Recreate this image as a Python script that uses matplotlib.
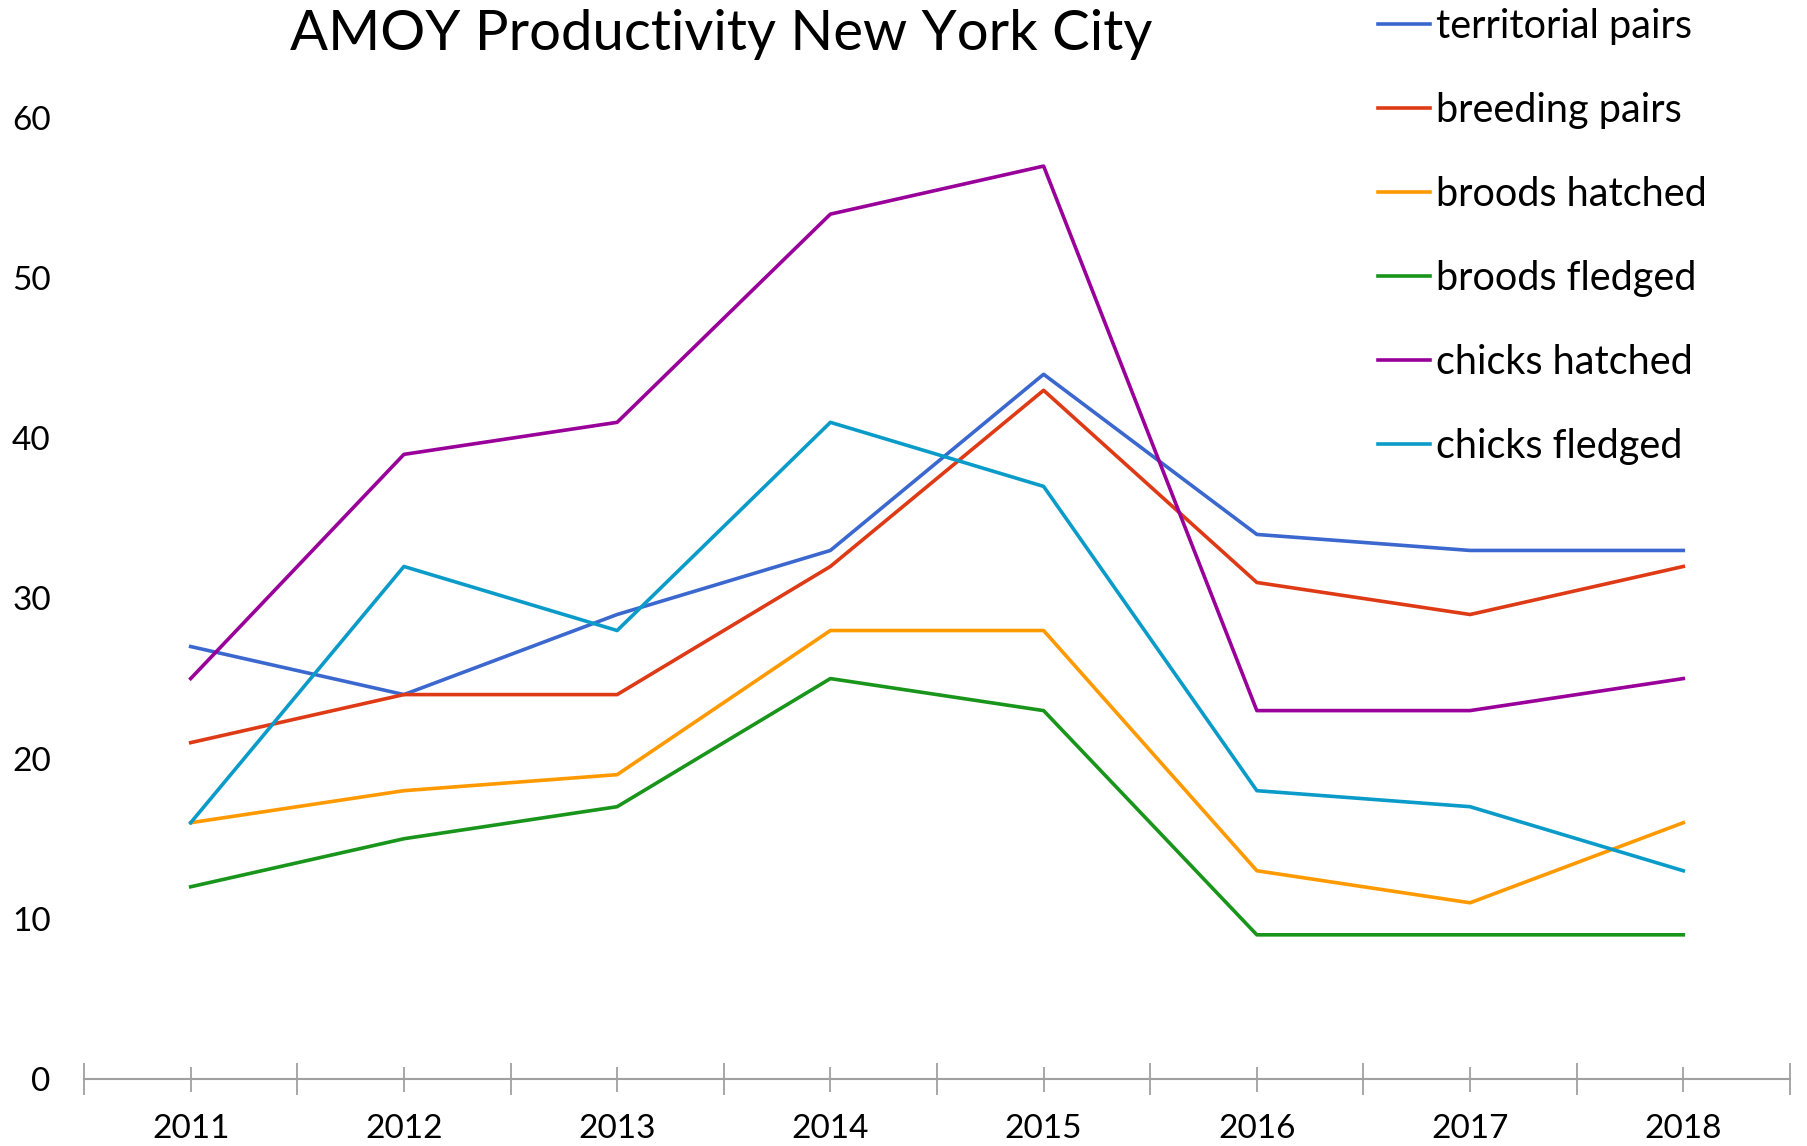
import matplotlib
matplotlib.use('Agg')
import matplotlib.pyplot as plt
import numpy as np

years = ['2011', '2012', '2013', '2014', '2015', '2016', '2017', '2018']
territorial_pairs = [27, 24, 29, 33, 44, 34, 33, 33]
breeding_pairs = [21, 24, 24, 32, 43, 31, 29, 32]
broods_hatched = [16, 18, 19, 28, 28, 13, 11, 16]
broods_fledged = [12, 15, 17, 25, 23, 9, 9, 9]
chicks_hatched = [25, 39, 41, 54, 57, 23, 23, 25]
chicks_fledged = [16, 32, 28, 41, 37, 18, 17, 13]

series = [
    ('territorial pairs', territorial_pairs, '#3B68CE'),
    ('breeding pairs', breeding_pairs, '#DE3A16'),
    ('broods hatched', broods_hatched, '#FF9900'),
    ('broods fledged', broods_fledged, '#18951A'),
    ('chicks hatched', chicks_hatched, '#990099'),
    ('chicks fledged', chicks_fledged, '#0A9BC9'),
]

plt.rcParams['font.family'] = ['Lato', 'DejaVu Sans']

fig = plt.figure(figsize=(18.08, 11.46), dpi=100)
ax = fig.add_axes([0.0465, 0.0585, 0.9435, 0.8385])

x = np.arange(len(years))
for name, vals, col in series:
    ax.plot(x, vals, color=col, linewidth=2.6, label=name)

ax.set_xlim(-0.5, len(years) - 0.5)
ax.set_ylim(0, 60)
ax.set_yticks(np.arange(0, 61, 10))
ax.tick_params(axis='y', length=0, pad=24, labelsize=24)

ax.set_xticks(np.arange(-0.5, len(years), 1))
ax.set_xticklabels([])
ax.set_xticks(x, years, minor=True)
ax.tick_params(axis='x', which='major', direction='inout', length=23, width=1.3, color='#A0A0A0')
ax.tick_params(axis='x', which='minor', direction='inout', length=18, width=1.3, color='#A0A0A0',
               labelsize=24, pad=16)

for s in ['top', 'right', 'left']:
    ax.spines[s].set_visible(False)
ax.spines['bottom'].set_color('#A0A0A0')
ax.spines['bottom'].set_linewidth(1.5)

fig.text(0.399, 0.970, 'AMOY Productivity New York City', fontsize=40.5, ha='center', va='center')

leg = fig.legend(loc='upper left', bbox_to_anchor=(0.7536, 1.007), frameon=False, fontsize=28.5,
                 handlelength=1.3, handletextpad=0.15, labelspacing=1.19, borderaxespad=0.0)

fig.savefig('out.png', dpi=100)
